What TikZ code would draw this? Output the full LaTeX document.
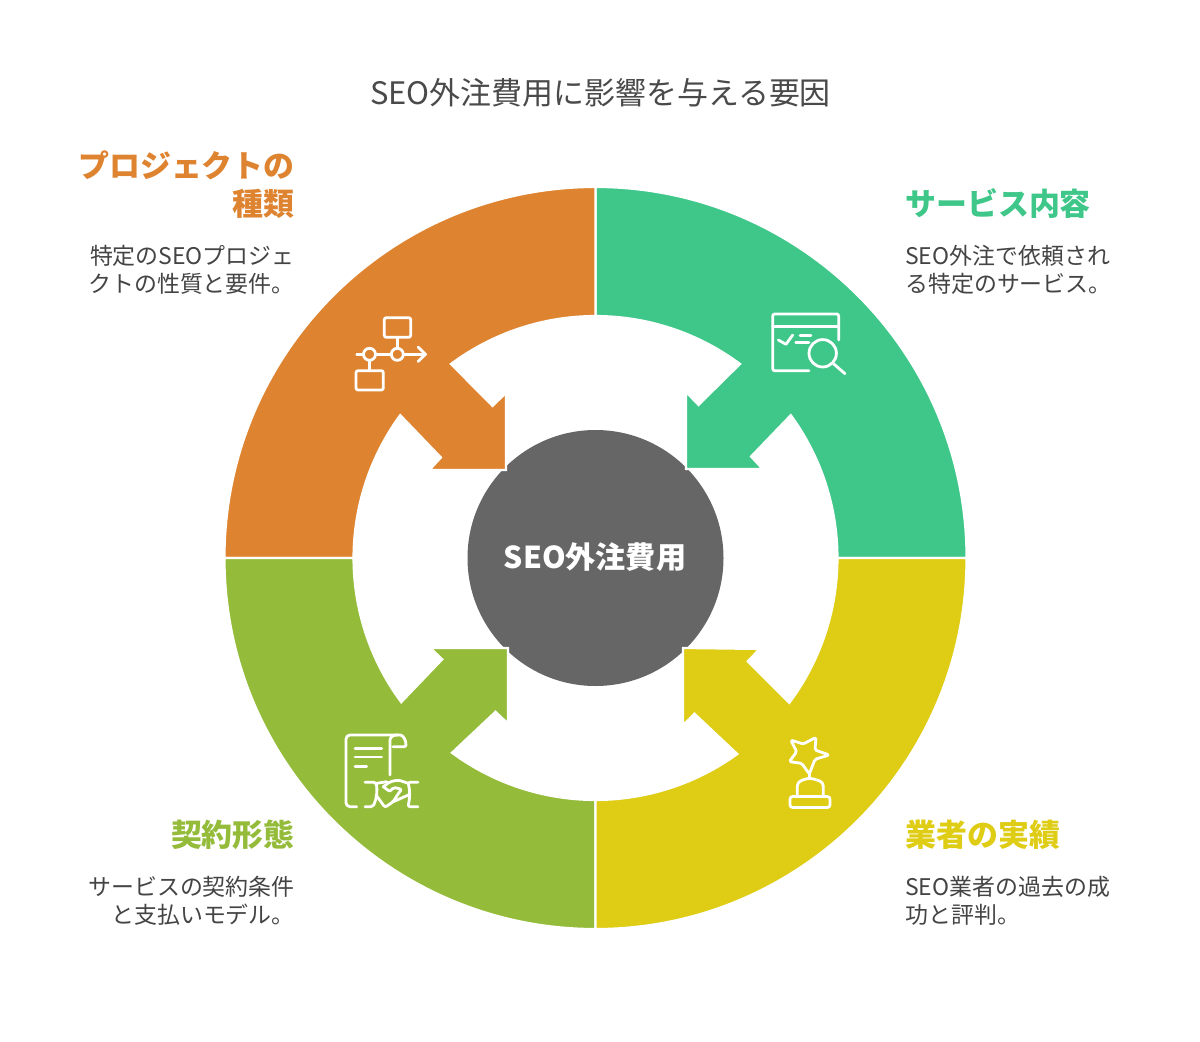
\documentclass[tikz,border=0pt]{standalone}
\usepackage{fontspec}
\setmainfont{Noto Sans CJK JP}
\definecolor{cOrange}{HTML}{DE8431}
\definecolor{cGreen}{HTML}{3FC78A}
\definecolor{cYellow}{HTML}{DFCC14}
\definecolor{cOlive}{HTML}{94BC3A}
\definecolor{cGray}{HTML}{666666}
\definecolor{cTitle}{HTML}{4A4A4A}
\definecolor{cText}{HTML}{444444}
\tikzset{
  px/.style={x=0.75pt,y=-0.75pt},
  quad/.style={draw=white,line width=1.6pt,line join=miter},
  icon/.style={draw=white,line width=2.1pt,line cap=round,line join=round,rounded corners=1.5pt},
  head/.style={inner sep=0pt,font=\fontsize{23.2pt}{29pt}\selectfont\bfseries},
  desc/.style={inner sep=0pt,font=\fontsize{17.2pt}{21pt}\selectfont,text=cText},
}
\begin{document}
\begin{tikzpicture}[px]
\useasboundingbox[fill=white] (0,0) rectangle (1200,1042);
% title
\node[anchor=base,inner sep=0pt,font=\fontsize{23.2pt}{28pt}\selectfont,text=cTitle] (title) at (600.5,104) {SEO外注費用に影響を与える要因};
% centre
\fill[cGray] (595.5,558) circle[radius=128];
\node[anchor=center,inner sep=0pt,font=\fontsize{22.6pt}{28pt}\selectfont\bfseries,text=white] (centre) at (595,557) {SEO外注費用};
% quadrants (y up, centred)
\begin{scope}[shift={(595.5,558)},x=0.75pt,y=0.75pt]
\path[quad,fill=cGreen] (0,242) arc[start angle=90,end angle=53.3,radius=242] -- (103,153) -- (90.5,166) -- (90.5,89) -- (167,89) -- (155.5,101.5) -- (36.2:242) arc[start angle=36.2,end angle=0,radius=242] -- (371,0) arc[start angle=0,end angle=90,radius=371] -- cycle;
\path[quad,fill=cOrange] (0,242) arc[start angle=90,end angle=126.7,radius=242] -- (-103,152) -- (-89.5,165) -- (-89.5,88) -- (-166,88) -- (-154.5,100.5) -- (143.8:242) arc[start angle=143.8,end angle=180,radius=242] -- (-371,0) arc[start angle=180,end angle=90,radius=371] -- cycle;
\path[quad,fill=cOlive] (0,-242) arc[start angle=270,end angle=233.6,radius=242] -- (-100,-153.7) -- (-87.5,-165.5) -- (-87.5,-90) -- (-165,-90) -- (-153.2,-101.3) -- (216.6:242) arc[start angle=216.6,end angle=180,radius=242] -- (-371,0) arc[start angle=180,end angle=270,radius=371] -- cycle;
\path[quad,fill=cYellow] (0,-242) arc[start angle=270,end angle=305.9,radius=242] -- (99,-155.7) -- (87.5,-167) -- (87.5,-90) -- (164,-91) -- (152.2,-103.3) -- (323.2:242) arc[start angle=323.2,end angle=360,radius=242] -- (371,0) arc[start angle=0,end angle=-90,radius=371] -- cycle;
\end{scope}
% headings
\node[head,anchor=base east,text=cOrange] (h1a) at (295,177) {プロジェクトの};
\node[head,anchor=base east,text=cOrange] (h1b) at (295,215) {種類};
\node[head,anchor=base west,text=cGreen] (h2) at (905,215) {サービス内容};
\node[head,anchor=base east,text=cOlive] (h3) at (295,846) {契約形態};
\node[head,anchor=base west,text=cYellow] (h4) at (905,846) {業者の実績};
% descriptions
\node[desc,anchor=base east] (d1a) at (295,264) {特定のSEOプロジェ};
\node[desc,anchor=base east] (d1b) at (295,292) {クトの性質と要件。};
\node[desc,anchor=base west] (d2a) at (905,264) {SEO外注で依頼され};
\node[desc,anchor=base west] (d2b) at (905,292) {る特定のサービス。};
\node[desc,anchor=base east] (d3a) at (295,895) {サービスの契約条件};
\node[desc,anchor=base east] (d3b) at (295,923) {と支払いモデル。};
\node[desc,anchor=base west] (d4a) at (905,895) {SEO業者の過去の成};
\node[desc,anchor=base west] (d4b) at (905,923) {功と評判。};
% flow icon
\draw[icon] (384.3,317.7) rectangle (410.7,337.3);
\draw[icon] (356,370.7) rectangle (383.3,390);
\draw[icon] (397.3,337.3) -- (397.3,348);
\draw[icon] (397.3,354.3) circle[radius=6];
\draw[icon] (369.5,354.3) circle[radius=6];
\draw[icon] (369.5,360.3) -- (369.5,370.7);
\draw[icon] (356.7,354.3) -- (363.5,354.3);
\draw[icon] (375.5,354.3) -- (391.3,354.3);
\draw[icon] (403.3,354.3) -- (425.5,354.3);
\draw[icon,rounded corners=0pt] (418,347) -- (425.5,354.3) -- (418,361.5);
% search icon
\draw[icon] (809,370.7) -- (772.7,370.7) -- (772.7,314) -- (838.7,314) -- (838.7,340);
\draw[icon] (772.7,326.7) -- (838.7,326.7);
\draw[icon,rounded corners=0pt] (778.3,340) -- (786,344.3) -- (792.7,335);
\draw[icon] (800,335.7) -- (811,335.7);
\draw[icon] (795.7,342.3) -- (809,342.3);
\draw[icon] (822.7,353.3) circle[radius=13.7];
\draw[icon] (833,363.3) -- (845,373.7);
% document icon
\draw[icon,rounded corners=3pt] (356.7,806.7) -- (346,806.7) -- (346,735) -- (398.3,735);
\draw[icon] (390,775) -- (390,742) .. controls (390,737) and (394,735) .. (398.3,735) .. controls (403,735) and (406,740) .. (406,746.7) -- (393,746.7);
\draw[icon] (355,748.3) -- (381.7,748.3);
\draw[icon] (355,757) -- (381.7,757);
\draw[icon] (355,766.7) -- (366.7,766.7);
% handshake
\draw[icon] (365,782.3) -- (376,782.3) .. controls (377.5,790) and (377,798) .. (373,806.7) -- (365,806.7);
\draw[icon] (418,782.3) -- (408,782.3) .. controls (410,790) and (410,798) .. (408,806.7) -- (418,806.7);
\draw[icon] (376.7,783.3) -- (386.7,781.7);
\draw[icon] (383.3,786.7) -- (390,781.7) -- (398.3,780) -- (408.3,783.3);
\draw[icon] (383.3,786.7) -- (390,791.7) -- (393.3,787.3) -- (401.7,789.3) -- (397.3,795) -- (393.3,801.7) -- (385,807.3) -- (376,795);
\draw[icon] (393.3,801.7) -- (408.3,795);
% trophy icon
\draw[icon,rounded corners=1.2pt] (790.7,740) -- (803.3,744) -- (816,737.3) -- (815,750) -- (829.3,755) -- (815,759.3) -- (809.3,774) -- (801.7,763.3) -- (789.3,761.7) -- (796.7,751.7) -- cycle;
\draw[icon] (809.3,774) -- (809.3,778);
\draw[icon,rounded corners=3pt] (797.3,796) -- (797.3,782) -- (809.3,777.7) -- (823.3,782) -- (823.3,796);
\draw[icon,rounded corners=2pt] (790,796.5) rectangle (830,807.5);
\end{tikzpicture}
\end{document}
